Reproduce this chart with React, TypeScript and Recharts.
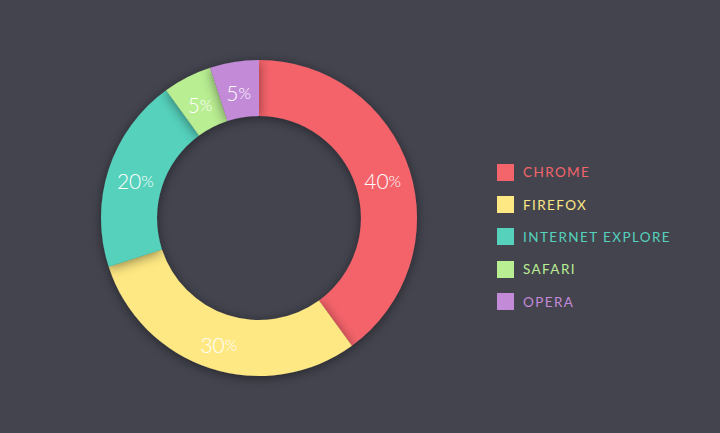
import { PieChart, Pie, Cell, Legend } from 'recharts';

const browsers = ['CHROME', 'FIREFOX', 'INTERNET EXPLORE', 'SAFARI', 'OPERA'];
const shares = [40, 30, 20, 5, 5];
const COLORS = ['#f4646b', '#fee883', '#55d1bc', '#b9ee92', '#c38ad8'];

const data = browsers.map((name, i) => ({ name, value: shares[i] }));

const RADIAN = Math.PI / 180;
const renderLabel = ({ cx, cy, midAngle, innerRadius, outerRadius, value }: any) => {
  const r = (innerRadius + outerRadius) / 2;
  const x = cx + r * Math.cos(-midAngle * RADIAN);
  const y = cy + r * Math.sin(-midAngle * RADIAN);
  return (
    <text x={x} y={y + 2} textAnchor="middle" dominantBaseline="central" fill="#ffffff" fontFamily="Lato, 'Open Sans', sans-serif" fontWeight={300}>
      <tspan fontSize={21}>{value}</tspan>
      <tspan fontSize={16}>%</tspan>
    </text>
  );
};

const renderLegend = () => (
  <div style={{ display: 'flex', flexDirection: 'column' }}>
    {data.map((d, i) => (
      <div key={d.name} style={{ display: 'flex', alignItems: 'center', height: 32.4 }}>
        <span style={{ width: 17, height: 17, background: COLORS[i], display: 'inline-block', marginRight: 9 }} />
        <span style={{ color: COLORS[i], fontSize: 13.5, letterSpacing: 1.4, fontFamily: "Lato, 'Open Sans', sans-serif" }}>{d.name}</span>
      </div>
    ))}
  </div>
);

export default function App() {
  return (
    <div style={{ position: 'fixed', top: 0, left: 0, width: 720, height: 433, background: '#44444f' }}>
      <PieChart width={720} height={433} margin={{ top: 0, right: 0, bottom: 0, left: 0 }}>
        <defs>
          <filter id="ringShadow" x="-20%" y="-20%" width="140%" height="140%">
            <feDropShadow dx="0" dy="2" stdDeviation="6" floodColor="#000000" floodOpacity="0.45" />
          </filter>
        </defs>
        <Pie
          data={data}
          dataKey="value"
          cx={259}
          cy={218}
          innerRadius={102}
          outerRadius={158}
          startAngle={90}
          endAngle={-270}
          stroke="none"
          labelLine={false}
          label={renderLabel}
          isAnimationActive={false}
          style={{ filter: 'url(#ringShadow)' }}
        >
          {data.map((entry, index) => (
            <Cell key={`cell-${index}`} fill={COLORS[index % COLORS.length]} />
          ))}
        </Pie>
        <Legend
          content={renderLegend}
          layout="vertical"
          wrapperStyle={{ position: 'absolute', left: 497, top: 156, width: 220 }}
        />
      </PieChart>
    </div>
  );
}
